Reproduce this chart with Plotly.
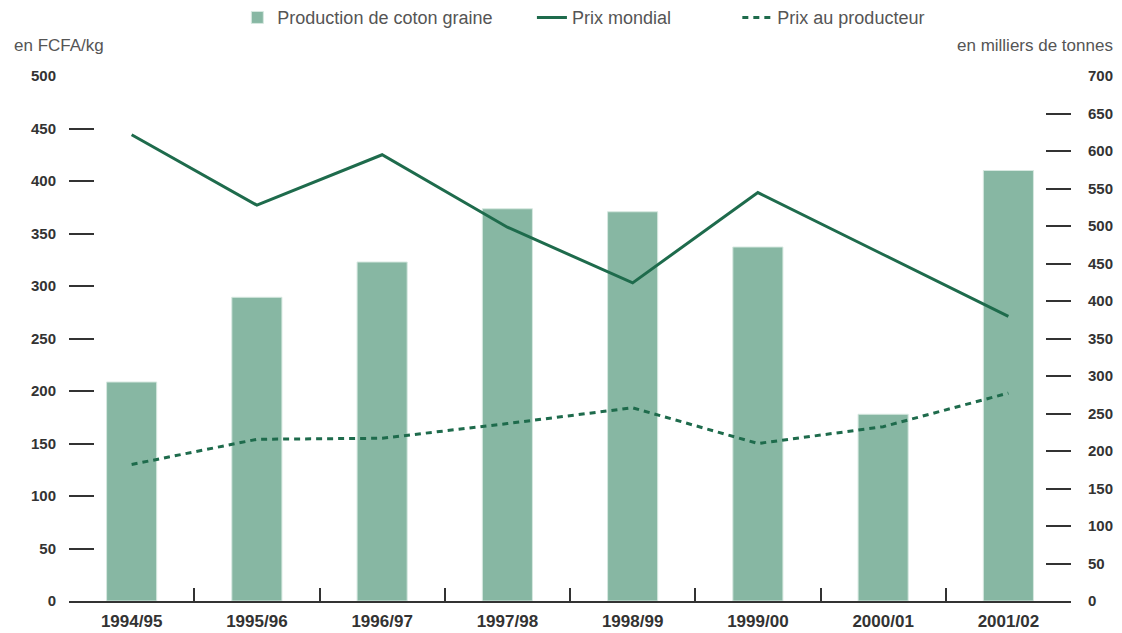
import plotly.graph_objects as go

# campaigns
campagnes = ["1994/95", "1995/96", "1996/97", "1997/98", "1998/99", "1999/00", "2000/01", "2001/02"]

# production de coton graine (milliers de tonnes, axe de droite)
production = [292, 405, 452, 523, 519, 472, 249, 574]

# prix en FCFA/kg (axe de gauche)
prix_mondial = [444, 377, 425, 356, 303, 389, 330, 271]
prix_producteur = [130, 154, 155, 169, 184, 150, 166, 198]

BAR_COLOR = "#87b7a3"
LINE_COLOR = "#1e6b4c"
TEXT_DARK = "#333333"
TEXT_GREY = "#555555"
FONT = "Liberation Sans, Arial, sans-serif"

fig = go.Figure()

# bars on the primary axis (drawn below), lines on the overlaying axis (drawn above)
fig.add_trace(go.Bar(
    x=campagnes, y=production, name="Production de coton graine",
    marker=dict(color=BAR_COLOR, line=dict(color="#d6e8e0", width=1)),
    width=0.4, yaxis="y", legend="legend",
))
fig.add_trace(go.Scatter(
    x=campagnes, y=prix_mondial, name="Prix mondial", mode="lines",
    line=dict(color=LINE_COLOR, width=3), yaxis="y2", legend="legend2",
))
fig.add_trace(go.Scatter(
    x=campagnes, y=prix_producteur, name="Prix au producteur", mode="lines",
    line=dict(color=LINE_COLOR, width=3, dash="6px,5px"), yaxis="y2", legend="legend3",
))

tick_font = dict(family=FONT, size=15, color=TEXT_DARK, weight="bold")
legend_font = dict(family=FONT, size=18, color=TEXT_GREY)

# the page body adds an 8px offset, so the figure is a bit smaller than the window
fig.update_layout(
    width=1114, height=625,
    margin=dict(l=61, r=51, t=68, b=32, autoexpand=False),
    plot_bgcolor="white", paper_bgcolor="white",
    showlegend=True,
    xaxis=dict(
        showline=True, linecolor=TEXT_DARK, linewidth=1.5,
        ticks="inside", tickson="boundaries", ticklen=13, tickwidth=1.5, tickcolor=TEXT_DARK,
        showgrid=False, tickfont=dict(family=FONT, size=17, color=TEXT_DARK, weight="bold"),
        ticklabelstandoff=4,
    ),
    yaxis=dict(
        side="right", range=[0, 700], dtick=50,
        ticks="inside", ticklen=25, tickwidth=1.5, tickcolor=TEXT_DARK,
        showgrid=False, zeroline=False, showline=False,
        tickfont=tick_font, ticklabelstandoff=16,
    ),
    yaxis2=dict(
        overlaying="y", side="left", range=[0, 500], dtick=50,
        ticks="inside", ticklen=25, tickwidth=1.5, tickcolor=TEXT_DARK,
        showgrid=False, zeroline=False, showline=False,
        tickfont=tick_font, ticklabelstandoff=12,
    ),
    legend=dict(orientation="h", x=0.168, y=1.111, xanchor="left", yanchor="middle",
                font=legend_font, bgcolor="rgba(0,0,0,0)"),
    legend2=dict(orientation="h", x=0.462, y=1.111, xanchor="left", yanchor="middle",
                 font=legend_font, bgcolor="rgba(0,0,0,0)"),
    legend3=dict(orientation="h", x=0.667, y=1.111, xanchor="left", yanchor="middle",
                 font=legend_font, bgcolor="rgba(0,0,0,0)"),
    annotations=[
        dict(text="en FCFA/kg", xref="paper", yref="paper", x=-0.057, y=1.059,
             xanchor="left", yanchor="middle", showarrow=False,
             font=dict(family=FONT, size=17, color=TEXT_GREY)),
        dict(text="en milliers de tonnes", xref="paper", yref="paper", x=1.044, y=1.059,
             xanchor="right", yanchor="middle", showarrow=False,
             font=dict(family=FONT, size=17, color=TEXT_GREY)),
    ],
)

fig.write_html("out.html")
